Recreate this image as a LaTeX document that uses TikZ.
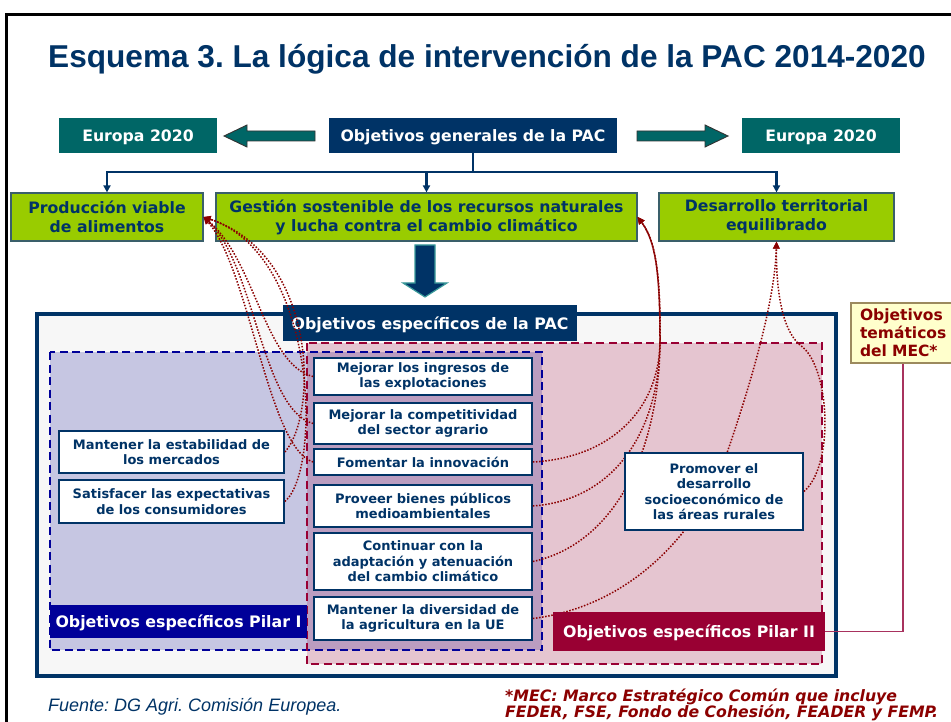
\documentclass[tikz,border=0pt]{standalone}
\usepackage{fontspec}
\setmainfont{DejaVu Sans}
\newfontfamily\arialf{Liberation Sans}
\usetikzlibrary{arrows.meta}
\frenchspacing
\definecolor{navy}{HTML}{003366}
\definecolor{teal2}{HTML}{006666}
\definecolor{lime}{HTML}{99CC00}
\definecolor{limeedge}{HTML}{3A5F6A}
\definecolor{p1blue}{HTML}{000099}
\definecolor{p2red}{HTML}{990033}
\definecolor{dred}{HTML}{8B0000}
\definecolor{lav}{HTML}{C6C6E2}
\definecolor{pinkf}{HTML}{E5C5D0}
\definecolor{overl}{HTML}{BB9DC0}
\definecolor{paleg}{HTML}{F7F7F7}
\definecolor{mecy}{HTML}{FFFFCC}
\definecolor{mecedge}{HTML}{9C8A5E}
\definecolor{mecline}{HTML}{A8325E}
\definecolor{arrowedge}{HTML}{3A9A9A}
\tikzset{
  topbox/.style={rectangle, inner sep=0pt, align=center, text=white,
    text height=12pt, text depth=0pt,
    font=\fontsize{15.7}{19}\selectfont\bfseries},
  greenbox/.style={rectangle, inner sep=0pt, align=center, fill=lime,
    draw=limeedge, line width=1.2pt, text=navy,
    font=\fontsize{15.7}{19}\selectfont\bfseries},
  objbox/.style={rectangle, inner sep=0pt, align=center, fill=white,
    draw=navy, line width=1.8pt, text=navy,
    font=\fontsize{13}{15.5}\selectfont\bfseries},
  labbox/.style={rectangle, inner sep=0pt, align=center, text=white,
    text height=12.6pt, text depth=0pt,
    font=\fontsize{15.8}{19}\selectfont\bfseries},
  conn/.style={draw=navy, line width=2.3pt},
  connarrow/.style={conn, -{Triangle[length=7pt,width=7pt]}},
  dots/.style={draw=dred, line width=1.5pt, dash pattern=on 1.5pt off 1.6pt,
    -{Triangle[length=7pt,width=6.5pt]}},
  blockarrow/.style={fill=teal2, draw=black!80, line width=0.9pt},
}
\begin{document}
\begin{tikzpicture}[x=1pt,y=-1pt]
\useasboundingbox (0,0) rectangle (951,722);
\fill[white] (0,0) rectangle (951,722);
% frame
\draw[black, line width=3pt] (6,730) -- (6,15) -- (960,15);
% title
\node[anchor=base west, inner sep=0pt, text=navy,
  font=\arialf\fontsize{31.6}{36}\selectfont\bfseries] (title) at (48,68)
  {Esquema 3. La lógica de intervención de la PAC 2014-2020};

% top row
\node[topbox, fill=teal2, minimum width=158pt, minimum height=35pt] (eurL) at (138,135.5) {Europa 2020};
\node[topbox, fill=navy, minimum width=288pt, minimum height=35pt] (gen) at (473,135.5) {Objetivos generales de la PAC};
\node[topbox, fill=teal2, minimum width=158pt, minimum height=35pt] (eurR) at (821,135.5) {Europa 2020};
\draw[blockarrow] (315,131) -- (247,131) -- (247,125) -- (224,136) -- (247,147) -- (247,141) -- (315,141) -- cycle;
\draw[blockarrow] (637,131) -- (705,131) -- (705,125) -- (728,136) -- (705,147) -- (705,141) -- (637,141) -- cycle;

% general objectives
\node[greenbox, minimum width=192pt, minimum height=48pt] (prod) at (107,217) {Producción viable\\de alimentos};
\node[greenbox, minimum width=421pt, minimum height=48pt] (gest) at (426.5,217) {Gestión sostenible de los recursos naturales\\y lucha contra el cambio climático};
\node[greenbox, minimum width=235pt, minimum height=48pt] (desa) at (776.5,217) {Desarrollo territorial\\equilibrado};
\coordinate (hub) at (473,172);
\draw[conn] (gen.south) -- (hub);
\draw[connarrow] (hub) -| (prod.north);
\draw[connarrow] (hub) -| (gest.north);
\draw[connarrow] (hub) -| (desa.north);

% big down arrow
\draw[fill=navy, draw=arrowedge, line width=1.2pt] (415,245) -- (435,245) -- (435,283) -- (447,283) -- (425,297) -- (403,283) -- (415,283) -- cycle;

% outer box
\draw[fill=paleg, draw=navy, line width=4pt] (37,314) rectangle (836,676);

% pillar areas
\fill[lav] (50,352) rectangle (542,650);
\fill[pinkf] (307,343) rectangle (822,664);
\fill[overl] (307,352) rectangle (542,650);
\draw[p1blue, line width=2pt, dash pattern=on 8pt off 4.5pt] (50,352) rectangle (542,650);
\draw[p2red, line width=2.3pt, dash pattern=on 8pt off 4.5pt] (307,343) rectangle (822,664);

% specific objectives label
\node[labbox, fill=navy, minimum width=294pt, minimum height=36pt] (pac) at (430,323) {Objetivos específicos de la PAC};

% objective boxes
\node[objbox, minimum width=218pt, minimum height=37pt] (ing) at (423,376.5) {Mejorar los ingresos de\\las explotaciones};
\node[objbox, minimum width=218pt, minimum height=41pt] (comp) at (423,423.5) {Mejorar la competitividad\\del sector agrario};
\node[objbox, minimum width=218pt, minimum height=26pt] (inno) at (423,462) {Fomentar la innovación};
\node[objbox, minimum width=218pt, minimum height=42pt] (prov) at (423,506) {Proveer bienes públicos\\medioambientales};
\node[objbox, minimum width=218pt, minimum height=57pt] (cont) at (423,561.5) {Continuar con la\\adaptación y atenuación\\del cambio climático};
\node[objbox, minimum width=218pt, minimum height=43pt] (div) at (423,618.5) {Mantener la diversidad de\\la agricultura en la UE};
\node[objbox, minimum width=225pt, minimum height=42pt] (estab) at (171.5,452) {Mantener la estabilidad de\\los mercados};
\node[objbox, minimum width=225pt, minimum height=43pt] (satis) at (171.5,501.5) {Satisfacer las expectativas\\de los consumidores};

% dotted links
\draw[dots] (ing.west) .. controls (265,365) and (255,260) .. (prod.east);
\draw[dots] (comp.west) .. controls (262,410) and (255,265) .. (prod.east);
\draw[dots] (inno.west) .. controls (268,448) and (250,270) .. (prod.east);
\draw[dots] (estab.east) .. controls (318,415) and (318,255) .. (prod.east);
\draw[dots] (satis.east) .. controls (322,470) and (318,255) .. (prod.east);

\draw[dots] (inno.east) .. controls (610,458) and (660,410) .. (660,340) .. controls (660,270) and (655,240) .. (gest.east);
\draw[dots] (prov.east) .. controls (615,500) and (660,430) .. (660,340) .. controls (660,270) and (655,240) .. (gest.east);
\draw[dots] (cont.east) .. controls (610,545) and (658,460) .. (660,345) .. controls (661,272) and (655,240) .. (gest.east);

\draw[dots] (div.east) .. controls (640,605) and (705,520) .. (728,450) .. controls (752,380) and (775,300) .. (desa.south);

% rural development box (covers the links that pass behind it)
\node[objbox, minimum width=178pt, minimum height=77pt] (prom) at (714,491.5) {Promover el\\desarrollo\\socioeconómico de\\las áreas rurales};
\draw[dots] (prom.east) .. controls (835,465) and (830,365) .. (800,345) .. controls (782,330) and (776,290) .. (desa.south);

% pillar labels
\node[labbox, fill=p1blue, minimum width=257pt, minimum height=33pt] (p1) at (178.5,621.5) {Objetivos específicos Pilar I};
\node[labbox, fill=p2red, minimum width=272pt, minimum height=39pt] (p2) at (689,631.5) {Objetivos específicos Pilar II};

% MEC box
\node[rectangle, fill=mecy, draw=mecedge, line width=1.5pt, inner xsep=9pt, inner ysep=0pt,
  text width=86pt, minimum height=60pt, align=left, text=dred,
  font=\fontsize{15.5}{18}\selectfont\bfseries] (mec) at (903,333) {Objetivos\\temáticos\\del MEC*};
\draw[mecline, line width=1.8pt] (mec.south) |- (p2.east);

% footers
\node[anchor=base west, inner sep=0pt, text=navy,
  font=\arialf\itshape\fontsize{18}{20}\selectfont] (src) at (48,711) {Fuente: DG Agri. Comisión Europea.};
\node[anchor=base west, inner sep=0pt, text=dred,
  font=\fontsize{15.7}{18}\selectfont\bfseries\itshape] (note1) at (505,701) {*MEC: Marco Estratégico Común que incluye};
\node[anchor=base west, inner sep=0pt, text=dred,
  font=\fontsize{15.7}{18}\selectfont\bfseries\itshape] (note2) at (505,717.5) {FEDER, FSE, Fondo de Cohesión, FEADER y FEMP.};
\end{tikzpicture}
\end{document}
